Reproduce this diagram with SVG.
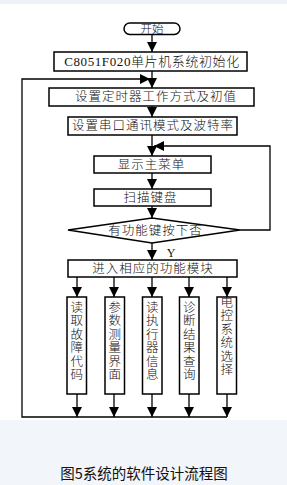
<svg xmlns="http://www.w3.org/2000/svg" width="287" height="485" viewBox="0 0 287 485">
<defs>
<style>
.bx{fill:#fff;stroke:#000;stroke-width:1.5}
.ln{fill:none;stroke:#000;stroke-width:1.3}
.t{font-family:"Liberation Serif","Noto Sans CJK SC",serif;font-size:12.5px;font-weight:300;letter-spacing:1px;fill:#111;text-anchor:middle;dominant-baseline:central}
.v{font-family:"Liberation Serif","Noto Sans CJK SC",serif;font-size:12.5px;font-weight:300;fill:#111;text-anchor:middle;dominant-baseline:central}
.cap{font-family:"Noto Sans CJK SC","Liberation Sans",sans-serif;font-size:14.5px;fill:#111;text-anchor:middle;dominant-baseline:central}
</style>
<marker id="ah" viewBox="0 0 10 10" refX="10" refY="5" markerWidth="10" markerHeight="10" markerUnits="userSpaceOnUse" orient="auto">
<path d="M0,0 L10,5 L0,10 Z" fill="#000"/>
</marker>
</defs>
<rect x="0" y="0" width="287" height="485" fill="#fff"/>
<rect x="0" y="0" width="287" height="4" fill="#eef2f6"/>
<rect x="0" y="420" width="287" height="65" fill="#f2f5f9"/>

<g id="connectors">
<line class="ln" x1="152" y1="34" x2="152" y2="52" marker-end="url(#ah)"/>
<line class="ln" x1="152" y1="71" x2="152" y2="88" marker-end="url(#ah)"/>
<polyline class="ln" points="227,417 22,417 22,79 150,79" marker-end="url(#ah)"/>
<line class="ln" x1="152" y1="106" x2="152" y2="117" marker-end="url(#ah)"/>
<line class="ln" x1="152" y1="135" x2="152" y2="156" marker-end="url(#ah)"/>
<polyline class="ln" points="240,230 270,230 270,146 154,146" marker-end="url(#ah)"/>
<line class="ln" x1="152" y1="173" x2="152" y2="189" marker-end="url(#ah)"/>
<line class="ln" x1="152" y1="206" x2="152" y2="218" marker-end="url(#ah)"/>
<line class="ln" x1="152" y1="243" x2="152" y2="260" marker-end="url(#ah)"/>
<text class="v" x="171" y="253" style="font-size:12px">Y</text>
<line class="ln" x1="77" y1="277" x2="77" y2="297" marker-end="url(#ah)"/>
<line class="ln" x1="114" y1="277" x2="114" y2="297" marker-end="url(#ah)"/>
<line class="ln" x1="152" y1="277" x2="152" y2="297" marker-end="url(#ah)"/>
<line class="ln" x1="189" y1="277" x2="189" y2="297" marker-end="url(#ah)"/>
<line class="ln" x1="227" y1="277" x2="227" y2="297" marker-end="url(#ah)"/>
<line class="ln" x1="77" y1="394" x2="77" y2="417" marker-end="url(#ah)"/>
<line class="ln" x1="114" y1="394" x2="114" y2="417" marker-end="url(#ah)"/>
<line class="ln" x1="152" y1="394" x2="152" y2="417" marker-end="url(#ah)"/>
<line class="ln" x1="189" y1="394" x2="189" y2="417" marker-end="url(#ah)"/>
<line class="ln" x1="227" y1="394" x2="227" y2="417" marker-end="url(#ah)"/>
</g>

<g id="start">
<rect class="bx" x="124" y="23" width="56" height="11.5" rx="5.75"/>
<text class="v" x="152" y="28.8" style="font-size:11.5px">开始</text>
</g>
<g id="init">
<rect class="bx" x="54" y="52" width="193" height="19"/>
<text class="t" x="152" y="61.5" style="font-size:13px;letter-spacing:0.6px">C8051F020单片机系统初始化</text>
</g>
<g id="timer">
<rect class="bx" x="49" y="88" width="205" height="18"/>
<text class="t" x="156" y="97">设置定时器工作方式及初值</text>
</g>
<g id="serial">
<rect class="bx" x="68" y="117" width="169" height="18"/>
<text class="t" x="153" y="126">设置串口通讯模式及波特率</text>
</g>
<g id="menu">
<rect class="bx" x="94" y="156" width="117" height="17"/>
<text class="t" x="151.5" y="164.5">显示主菜单</text>
</g>
<g id="scan">
<rect class="bx" x="94" y="189" width="117" height="17"/>
<text class="t" x="150.5" y="197.5">扫描键盘</text>
</g>
<g id="decision">
<polygon class="bx" points="68,230 152,218 240,230 152,243"/>
<text class="t" x="155.5" y="230.5">有功能键按下否</text>
</g>
<g id="enter">
<rect class="bx" x="68" y="260" width="169" height="17"/>
<text class="t" x="153" y="268.5">进入相应的功能模块</text>
</g>
<g id="m1">
<rect class="bx" x="67" y="297" width="19.5" height="97"/>
<text class="v" x="76.8" y="308"><tspan x="76.8">读</tspan><tspan x="76.8" dy="13.4">取</tspan><tspan x="76.8" dy="13.4">故</tspan><tspan x="76.8" dy="13.4">障</tspan><tspan x="76.8" dy="13.4">代</tspan><tspan x="76.8" dy="13.4">码</tspan></text>
</g>
<g id="m2">
<rect class="bx" x="105" y="297" width="19.5" height="97"/>
<text class="v" x="114.8" y="308"><tspan x="114.8">参</tspan><tspan x="114.8" dy="13.4">数</tspan><tspan x="114.8" dy="13.4">测</tspan><tspan x="114.8" dy="13.4">量</tspan><tspan x="114.8" dy="13.4">界</tspan><tspan x="114.8" dy="13.4">面</tspan></text>
</g>
<g id="m3">
<rect class="bx" x="142.5" y="297" width="19.5" height="97"/>
<text class="v" x="152.3" y="308"><tspan x="152.3">读</tspan><tspan x="152.3" dy="13.4">执</tspan><tspan x="152.3" dy="13.4">行</tspan><tspan x="152.3" dy="13.4">器</tspan><tspan x="152.3" dy="13.4">信</tspan><tspan x="152.3" dy="13.4">息</tspan></text>
</g>
<g id="m4">
<rect class="bx" x="179.5" y="297" width="19.5" height="97"/>
<text class="v" x="189.3" y="308"><tspan x="189.3">诊</tspan><tspan x="189.3" dy="13.4">断</tspan><tspan x="189.3" dy="13.4">结</tspan><tspan x="189.3" dy="13.4">果</tspan><tspan x="189.3" dy="13.4">查</tspan><tspan x="189.3" dy="13.4">询</tspan></text>
</g>
<g id="m5">
<rect class="bx" x="217" y="297" width="19.5" height="97"/>
<text class="v" x="226.8" y="303"><tspan x="226.8">电</tspan><tspan x="226.8" dy="13.4">控</tspan><tspan x="226.8" dy="13.4">系</tspan><tspan x="226.8" dy="13.4">统</tspan><tspan x="226.8" dy="13.4">选</tspan><tspan x="226.8" dy="13.4">择</tspan></text>
</g>
<g id="caption">
<text class="cap" x="144" y="472">图5系统的软件设计流程图</text>
</g>
</svg>
